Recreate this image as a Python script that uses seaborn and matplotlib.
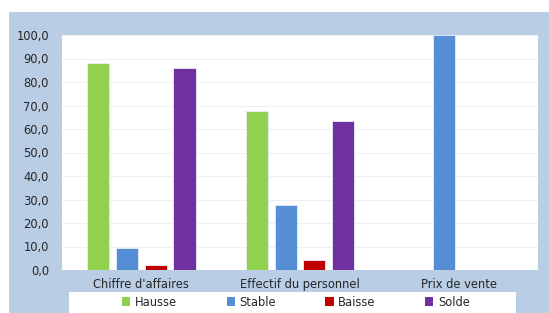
import matplotlib
matplotlib.use("Agg")
import matplotlib.pyplot as plt
from matplotlib.patches import Rectangle
from matplotlib.ticker import FuncFormatter
import seaborn as sns
import pandas as pd

categories = ["Chiffre d'affaires", "Effectif du personnel", "Prix de vente"]
series = ["Hausse", "Stable", "Baisse", "Solde"]
hausse = [88.0, 67.7, 0.0]
stable = [9.5, 27.5, 100.0]
baisse = [2.1, 4.3, 0.0]
solde = [85.8, 63.4, 0.0]
colors = ["#92D050", "#558ED5", "#C00000", "#7030A0"]

rows = []
for s, vals in zip(series, [hausse, stable, baisse, solde]):
    for c, v in zip(categories, vals):
        rows.append({"cat": c, "serie": s, "val": v})
df = pd.DataFrame(rows)

sns.set_style("white")
plt.rcParams["font.family"] = ["DejaVu Sans"]

W, H = 549, 313
fs = 8.3
fig = plt.figure(figsize=(W / 100, H / 100), dpi=100)
fig.patch.set_facecolor("white")
fig.patches.append(Rectangle((9 / W, 0), 1 - 9 / W, (H - 12) / H, transform=fig.transFigure,
                             facecolor="#B9CDE5", edgecolor="none", zorder=-2))
fig.patches.append(Rectangle((69 / W, 0), 447 / W, 21 / H, transform=fig.transFigure,
                             facecolor="white", edgecolor="none", zorder=-1))

ax = fig.add_axes([62 / W, (H - 270) / H, 476 / W, 235 / H])
ax.set_zorder(5)
ax.set_facecolor("white")
sns.barplot(data=df, x="cat", y="val", hue="serie", order=categories, hue_order=series,
            palette=colors, saturation=1, width=0.725, gap=0.23, ax=ax, legend=False,
            edgecolor="#E8EEF8", linewidth=0.6, errorbar=None)
ax.set_ylim(0, 100)
ax.set_yticks(range(0, 101, 10))
ax.yaxis.set_major_formatter(FuncFormatter(lambda v, p: f"{v:.1f}".replace(".", ",")))
ax.grid(axis="y", color="#F0F0F0", linewidth=0.8)
ax.set_axisbelow(True)
for sp in ax.spines.values():
    sp.set_visible(False)
ax.tick_params(axis="both", length=0, labelsize=fs, colors="#262626")
ax.tick_params(axis="x", pad=6)
ax.tick_params(axis="y", pad=9.4)
ax.set_xlabel("")
ax.set_ylabel("")

handles = [Rectangle((0, 0), 1, 1, facecolor=c, edgecolor="none") for c in colors]
leg = fig.legend(handles, series, loc="center", bbox_to_anchor=(296 / W, 11 / H), ncol=4,
                 frameon=False, fontsize=fs, handlelength=0.7, handleheight=0.7,
                 handletextpad=0.4, columnspacing=4.3, labelcolor="#262626")
leg.set_zorder(6)

fig.savefig("out.png", dpi=100)
